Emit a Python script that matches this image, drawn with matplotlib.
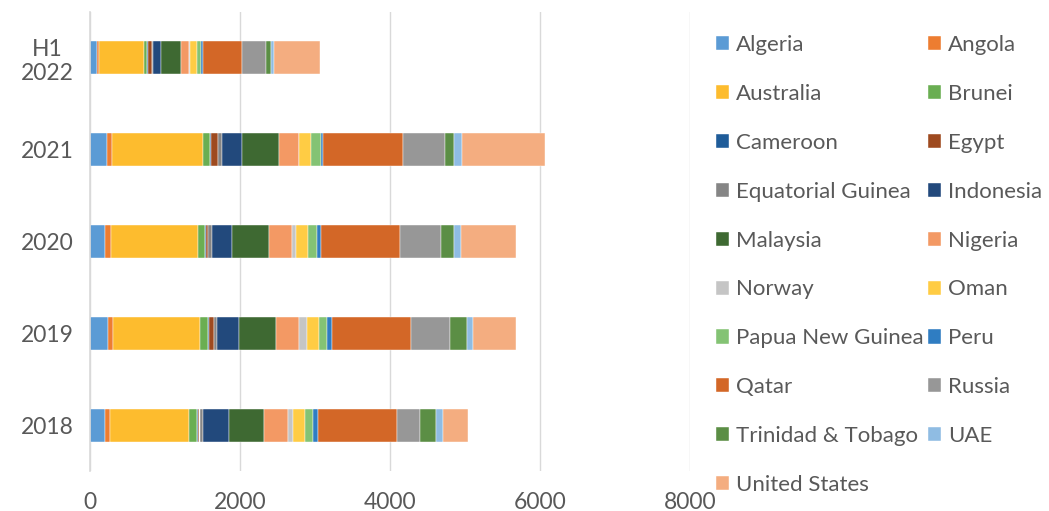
import matplotlib.pyplot as plt
import numpy as np

plt.rcParams["font.family"] = ["Lato", "DejaVu Sans"]

# LNG export volumes by source, stacked per period
periods = ["2018", "2019", "2020", "2021", "H1\n2022"]
countries = [
    "Algeria", "Angola", "Australia", "Brunei", "Cameroon", "Egypt",
    "Equatorial Guinea", "Indonesia", "Malaysia", "Nigeria", "Norway",
    "Oman", "Papua New Guinea", "Peru", "Qatar", "Russia",
    "Trinidad & Tobago", "UAE", "United States",
]
algeria = [200, 245, 200, 232, 98]
angola = [67, 62, 80, 58, 22]
australia = [1055, 1162, 1162, 1216, 601]
brunei = [111, 107, 94, 89, 45]
cameroon = [9, 13, 13, 18, 10]
egypt = [18, 58, 27, 98, 45]
eq_guinea = [53, 45, 49, 49, 20]
indonesia = [338, 289, 263, 267, 111]
malaysia = [468, 499, 499, 499, 258]
nigeria = [316, 312, 307, 263, 111]
norway = [67, 98, 58, 0, 18]
oman = [169, 169, 156, 160, 89]
png = [102, 107, 116, 125, 58]
peru = [62, 62, 58, 36, 20]
qatar = [1055, 1051, 1051, 1064, 525]
russia = [312, 517, 552, 561, 316]
trinidad = [214, 227, 165, 120, 62]
uae = [89, 89, 102, 102, 45]
usa = [330, 566, 730, 1104, 619]

series = [algeria, angola, australia, brunei, cameroon, egypt, eq_guinea,
          indonesia, malaysia, nigeria, norway, oman, png, peru, qatar,
          russia, trinidad, uae, usa]

colors = [
    "#5B9BD5", "#ED7D31", "#FDBC2E", "#6AAE52", "#1F5C99", "#9E4A1F",
    "#858585", "#22497C", "#3E6932", "#F39964", "#C5C5C5", "#FFCC44",
    "#84C374", "#2F7DC2", "#D36727", "#979797", "#5B8E45", "#8FBCE3",
    "#F4AD80",
]

TEXT = "#595959"
GRID = "#D9D9D9"

fig = plt.figure(figsize=(10.49, 5.11), dpi=100)
ax = fig.add_axes([90 / 1049, 40 / 511, 600 / 1049, 459 / 511])

y = np.arange(len(periods))
left = np.zeros(len(periods))
bars = []
for name, vals, c in zip(countries, series, colors):
    b = ax.barh(y, vals, left=left, height=0.36, color=c, label=name,
                edgecolor="white", linewidth=0.3)
    bars.append(b)
    left += np.array(vals)

ax.set_xlim(0, 8000)
ax.set_ylim(-0.5, 4.5)
ax.set_xticks([0, 2000, 4000, 6000, 8000])
ax.set_yticks(y)
ax.set_yticklabels(periods)
for lbl in ax.get_yticklabels():
    lbl.set_multialignment("center")
ax.tick_params(length=0, labelsize=16.5, colors=TEXT)
ax.tick_params(axis="x", pad=15)
ax.tick_params(axis="y", pad=12)
ax.grid(axis="x", color=GRID, linewidth=1)
ax.set_axisbelow(True)
for s in ["top", "right", "bottom"]:
    ax.spines[s].set_visible(False)
ax.spines["left"].set_color(GRID)
ax.spines["left"].set_linewidth(1.2)

# legend filled row by row: reorder for matplotlib's column-major layout
order = list(range(0, len(countries), 2)) + list(range(1, len(countries), 2))
handles = [bars[i] for i in order]
labels = [countries[i] for i in order]
leg = fig.legend(handles, labels, ncol=2, loc="upper left",
                 bbox_to_anchor=(716 / 1049, 1 - 35 / 511), frameon=False,
                 fontsize=16, handlelength=0.6, handleheight=0.6,
                 handletextpad=0.3, columnspacing=0.2, labelspacing=1.3,
                 borderpad=0, borderaxespad=0)
for t in leg.get_texts():
    t.set_color(TEXT)

fig.savefig("out.png", dpi=100)
